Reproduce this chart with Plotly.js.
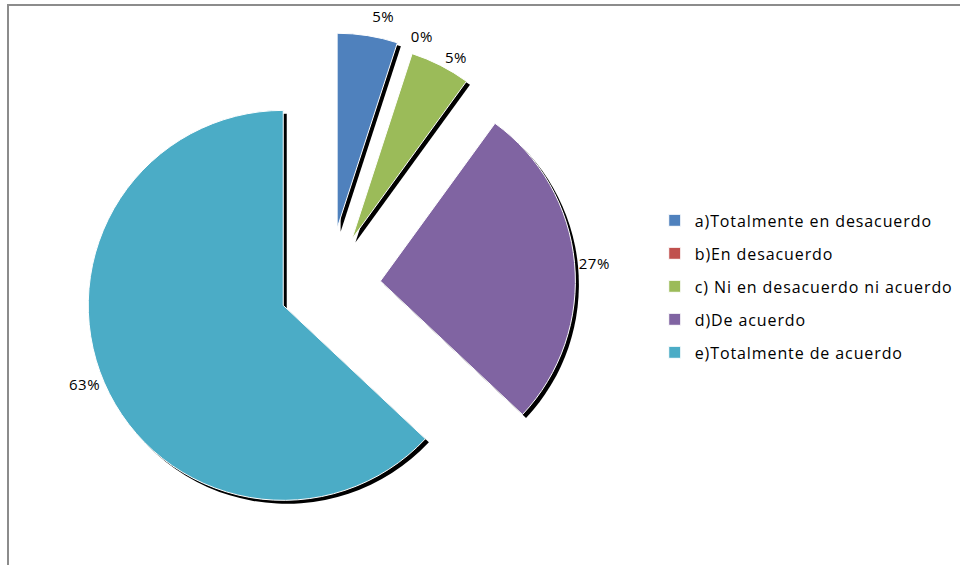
<!DOCTYPE html>
<html>
<head>
<meta charset="utf-8">
<script src="https://cdn.plot.ly/plotly-3.0.1.min.js"></script>
<style>
html,body{margin:0;padding:0;background:#fff;}
#chart{width:960px;height:565px;}
#chart path.textline{display:none;}
#chart .legendtext{letter-spacing:0.9px;}
#chart .slicetext text{letter-spacing:0.5px;}
</style>
</head>
<body>
<div id="chart"></div>
<script>
const labels = ["a)Totalmente en desacuerdo", "b)En desacuerdo", "c) Ni en desacuerdo ni acuerdo", "d)De acuerdo", "e)Totalmente de acuerdo"];
const values = [5, 0, 5, 27, 63];
const colors = ["#4F81BD", "#C0504D", "#9BBB59", "#8064A2", "#4BACC6"];
const pulls = [0.3, 0.3, 0.27, 0.27, 0.25];

const dom = {x: [0.0776, 0.6057], y: [0.0451, 0.9425]};
const dx = 3.5 / 960, dy = 3.5 / 565;

const shadow = {
  type: "pie", labels: labels, values: values, sort: false, direction: "clockwise", rotation: 0,
  pull: pulls, marker: {colors: labels.map(() => "#000000"), line: {width: 0}},
  textinfo: "none", hoverinfo: "skip", showlegend: false,
  domain: {x: [dom.x[0] + dx, dom.x[1] + dx], y: [dom.y[0] - dy, dom.y[1] - dy]}
};
const main = {
  type: "pie", labels: labels, values: values, sort: false, direction: "clockwise", rotation: 0,
  pull: pulls, marker: {colors: colors, line: {color: "#ffffff", width: 1}},
  textinfo: "percent", texttemplate: "%{percent:.0%}", textposition: "outside",
  outsidetextfont: {family: "Open Sans, sans-serif", size: 15, color: "#000000"},
  domain: dom
};

const layout = {
  width: 960, height: 565,
  margin: {l: 0, r: 0, t: 0, b: 0},
  paper_bgcolor: "#ffffff",
  font: {family: "Open Sans, sans-serif", size: 15, color: "#000000"},
  showlegend: true,
  legend: {x: 0.682, y: 0.64, xanchor: "left", yanchor: "top", itemwidth: 30,
           font: {size: 16, color: "#000000"}, bgcolor: "rgba(0,0,0,0)"},
  shapes: [{type: "rect", xref: "paper", yref: "paper", x0: 8/960, x1: 1.02, y0: -0.02, y1: 1 - 5/565,
            line: {color: "#8c8c8c", width: 2}, fillcolor: "rgba(0,0,0,0)", layer: "below"}]
};

Plotly.newPlot("chart", [shadow, main], layout, {staticPlot: true}).then(function (gd) {
  // widen the vertical spacing of legend entries to match the reference
  gd.querySelectorAll(".legend .scrollbox, .legend").forEach(function (el) { el.removeAttribute("clip-path"); });
  const items = gd.querySelectorAll(".legend .traces");
  const rowGap = 33;
  let y0 = null;
  items.forEach(function (el, i) {
    const m = /translate\(\s*([-\d.]+)[ ,]+([-\d.]+)\s*\)/.exec(el.getAttribute("transform") || "");
    if (!m) return;
    if (y0 === null) y0 = parseFloat(m[2]);
    el.setAttribute("transform", "translate(" + m[1] + "," + (y0 + i * rowGap) + ")");
  });
});
</script>
</body>
</html>
